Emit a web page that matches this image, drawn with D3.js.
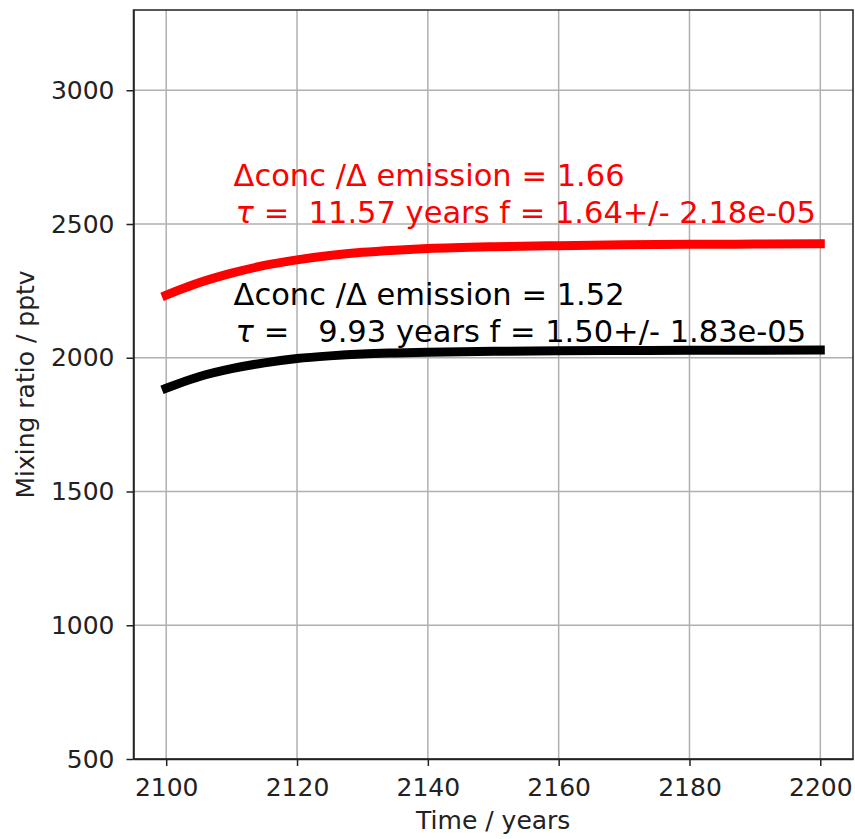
<!DOCTYPE html>
<html>
<head>
<meta charset="utf-8">
<script src="https://cdn.jsdelivr.net/npm/d3@7"></script>
<style>
  body { margin: 0; background: #fff; }
  svg { display: block; font-family: "DejaVu Sans", sans-serif; }
  .grid line { stroke: #b0b0b0; stroke-width: 1.5; }
  .axis path, .axis line { stroke: #222; stroke-width: 1.5; }
  .axis text { fill: #222; font-size: 25px; font-family: "DejaVu Sans", sans-serif; }
</style>
</head>
<body>
<svg id="chart" width="855" height="839"></svg>
<script>
// values
const years      = [2100, 2105, 2110, 2115, 2120, 2125, 2130, 2135, 2140, 2150, 2160, 2170, 2180, 2190, 2200];
const redSeries  = [2234, 2280, 2316, 2345, 2366, 2382, 2394, 2402, 2408, 2415, 2419, 2422, 2424, 2425, 2426];
const blackSeries= [1886, 1929, 1959, 1981, 1997, 2007, 2014, 2018, 2021, 2024, 2026, 2027, 2028, 2028, 2029];

const xTicks = [2100, 2120, 2140, 2160, 2180, 2200];
const yTicks = [500, 1000, 1500, 2000, 2500, 3000];

const redText   = ["\u0394conc /\u0394 emission = 1.66", " =  11.57 years f = 1.64+/- 2.18e-05"];
const blackText = ["\u0394conc /\u0394 emission = 1.52", " =   9.93 years f = 1.50+/- 1.83e-05"];

const mLeft = 133.5, mRight = 853, mTop = 10, mBottom = 759;

const svg = d3.select("#chart");

const x = d3.scaleLinear().domain([2095, 2205]).range([mLeft, mRight]);
const y = d3.scaleLinear().domain([500, 3300]).range([mBottom, mTop]);

// grid
const grid = svg.append("g").attr("class", "grid");
grid.selectAll("line.v").data(xTicks).enter().append("line").attr("class", "v")
  .attr("x1", d => x(d)).attr("x2", d => x(d))
  .attr("y1", mTop).attr("y2", mBottom);
grid.selectAll("line.h").data(yTicks).enter().append("line").attr("class", "h")
  .attr("x1", mLeft).attr("x2", mRight)
  .attr("y1", d => y(d)).attr("y2", d => y(d));

// lines
const line = d3.line().x(d => x(d[0])).y(d => y(d[1])).curve(d3.curveMonotoneX);

svg.append("path")
  .datum(years.map((yr, i) => [yr, redSeries[i]]))
  .attr("d", line)
  .attr("fill", "none").attr("stroke", "#ff0000")
  .attr("stroke-width", 9).attr("stroke-linecap", "square");

svg.append("path")
  .datum(years.map((yr, i) => [yr, blackSeries[i]]))
  .attr("d", line)
  .attr("fill", "none").attr("stroke", "#000000")
  .attr("stroke-width", 9).attr("stroke-linecap", "square");

// annotations
const addNote = (lines, color, yr, val) => {
  let t = svg.append("text")
    .attr("x", x(yr)).attr("y", y(val))
    .attr("fill", color)
    .style("font-size", "30.5px")
    .style("white-space", "pre");
  t.append("tspan").attr("x", x(yr)).attr("dy", 0).text(lines[0]);
  let l2 = t.append("tspan").attr("x", x(yr) + 2).attr("dy", 37);
  l2.append("tspan").style("font-style", "italic").text("\u03c4");
  l2.append("tspan").text(lines[1]);
};
addNote(redText, "#ff0000", 2110.3, 2643);
addNote(blackText, "#000000", 2110.3, 2198);

// axes
svg.append("g").attr("class", "axis")
  .attr("transform", "translate(0," + mBottom + ")")
  .call(d3.axisBottom(x).tickValues(xTicks).tickFormat(d3.format("d"))
        .tickSizeInner(7).tickSizeOuter(0).tickPadding(12));

svg.append("g").attr("class", "axis")
  .attr("transform", "translate(" + mLeft + ",0)")
  .call(d3.axisLeft(y).tickValues(yTicks).tickFormat(d3.format("d"))
        .tickSizeInner(7).tickSizeOuter(0).tickPadding(12));

// frame
svg.append("rect")
  .attr("x", mLeft).attr("y", mTop)
  .attr("width", mRight - mLeft).attr("height", mBottom - mTop)
  .attr("fill", "none").attr("stroke", "#222").attr("stroke-width", 1.5);

svg.append("text")
  .attr("x", (mLeft + mRight) / 2).attr("y", 829)
  .attr("text-anchor", "middle")
  .style("font-size", "25px").attr("fill", "#222")
  .text("Time / years");

svg.append("text")
  .attr("transform", "translate(34," + ((mTop + mBottom) / 2) + ") rotate(-90)")
  .attr("text-anchor", "middle")
  .style("font-size", "25px").attr("fill", "#222")
  .text("Mixing ratio / pptv");
</script>
</body>
</html>
